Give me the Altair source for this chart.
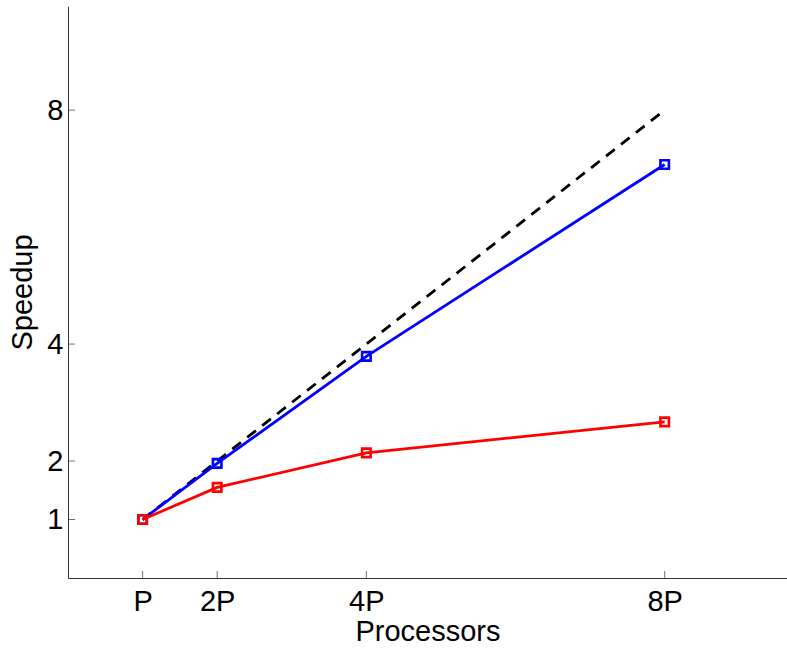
import altair as alt
import pandas as pd

# Processor counts (multiples of P) and their axis labels
procs = [1, 2, 4, 8]
proc_labels = ["P", "2P", "4P", "8P"]

# Measured speedup for the two configurations
speedup_blue = [1.0, 1.96, 3.79, 7.07]
speedup_red = [1.0, 1.55, 2.14, 2.67]

# Ideal (linear) speedup reference
ideal_x = [1, 8]
ideal_y = [1, 8]

# Speedup ticks
y_ticks = [1, 2, 4, 8]

FONT = "Liberation Sans"
AXIS_COLOR = "#333333"

blue_df = pd.DataFrame({"procs": procs, "speedup": speedup_blue})
red_df = pd.DataFrame({"procs": procs, "speedup": speedup_red})
ideal_df = pd.DataFrame({"procs": ideal_x, "speedup": ideal_y})
xtick_df = pd.DataFrame({"procs": procs})
ytick_df = pd.DataFrame({"speedup": y_ticks})

label_map = "{" + ",".join(f"'{v}':'{l}'" for v, l in zip(procs, proc_labels)) + "}"

x_scale = alt.Scale(domain=[0, 9.64], nice=False, zero=False)
y_scale = alt.Scale(domain=[0, 9.78], nice=False, zero=False)

x_enc = alt.X(
    "procs:Q",
    scale=x_scale,
    axis=alt.Axis(
        values=procs,
        labelExpr=f"{label_map}[datum.value + '']",
        title="Processors",
        titlePadding=1,
        labelPadding=9,
    ),
)
y_enc = alt.Y(
    "speedup:Q",
    scale=y_scale,
    axis=alt.Axis(
        values=y_ticks,
        format="d",
        title="Speedup",
        titlePadding=9,
        labelPadding=5,
    ),
)

ideal = (
    alt.Chart(ideal_df)
    .mark_line(color="black", strokeWidth=2.8, strokeDash=[11, 8])
    .encode(x=x_enc, y=y_enc)
)


def series(df, color):
    line = alt.Chart(df).mark_line(color=color, strokeWidth=2.8).encode(x=x_enc, y=y_enc)
    pts = (
        alt.Chart(df)
        .mark_point(shape="square", filled=False, color=color, size=72, strokeWidth=2.6, opacity=1)
        .encode(x=x_enc, y=y_enc)
    )
    return line + pts


# Inward-pointing tick marks on both axes
xticks = (
    alt.Chart(xtick_df)
    .mark_tick(orient="vertical", size=7, thickness=1, color=AXIS_COLOR, yOffset=-3.5)
    .encode(x=alt.X("procs:Q", scale=x_scale), y=alt.datum(0, scale=y_scale))
)
yticks = (
    alt.Chart(ytick_df)
    .mark_tick(orient="horizontal", size=7, thickness=1, color=AXIS_COLOR, xOffset=3.5)
    .encode(y=alt.Y("speedup:Q", scale=y_scale), x=alt.datum(0, scale=x_scale))
)

chart = (
    alt.layer(ideal, series(blue_df, "#0000ff"), series(red_df, "#ff0000"), xticks, yticks)
    .properties(
        width=719,
        height=572,
        padding={"left": 68, "top": 6, "right": 0, "bottom": 70},
        autosize=alt.AutoSizeParams(type="none"),
        background="white",
    )
    .configure_view(stroke=None)
    .configure_axis(
        grid=False,
        domainColor=AXIS_COLOR,
        domainWidth=1,
        ticks=False,
        labelFont=FONT,
        labelFontSize=29,
        labelColor="black",
        titleFont=FONT,
        titleFontSize=29,
        titleFontWeight="normal",
        titleColor="black",
    )
)

chart.save("out.html", embed_options={"renderer": "svg", "actions": False})
